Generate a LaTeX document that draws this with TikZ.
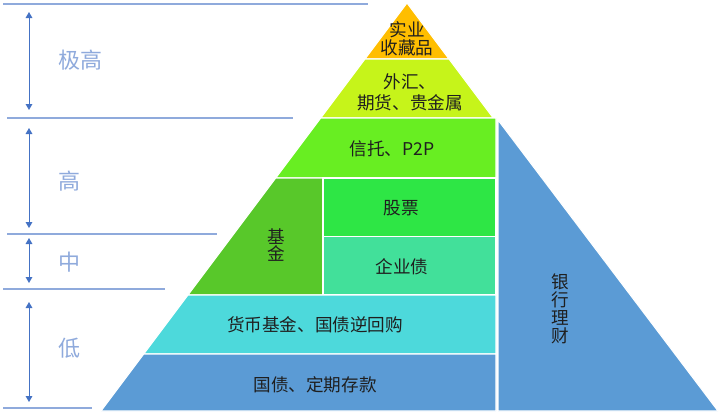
\documentclass[tikz,border=0pt]{standalone}
\usepackage{fontspec}
\newfontfamily\cjk{Noto Sans CJK SC}
\usetikzlibrary{arrows.meta}
\definecolor{topgold}{RGB}{255,190,0}
\definecolor{limegreen}{RGB}{198,244,26}
\definecolor{grassgreen}{RGB}{104,238,34}
\definecolor{fundgreen}{RGB}{88,200,42}
\definecolor{stockgreen}{RGB}{46,230,69}
\definecolor{bondgreen}{RGB}{66,224,154}
\definecolor{moneycyan}{RGB}{77,217,219}
\definecolor{bankblue}{RGB}{91,155,213}
\definecolor{lineblue}{RGB}{143,170,220}
\definecolor{arrowblue}{RGB}{68,114,196}

\begin{document}
\begin{tikzpicture}[x=0.75pt,y=0.75pt,yscale=-1,xscale=1,
  block/.style={draw=white, line width=0.8pt},
  txt/.style={font=\cjk\fontsize{13.2}{13.5}\selectfont, text=black!88, align=center, inner sep=0pt},
  lvl/.style={font=\cjk\fontsize{16.5}{20}\selectfont, text=lineblue, inner sep=0pt},
  sep/.style={draw=lineblue, line width=0.8pt},
  span/.style={draw=arrowblue, line width=0.75pt, {Triangle[width=5pt,length=4.5pt]}-{Triangle[width=5pt,length=4.5pt]}}]
\useasboundingbox (0,0) rectangle (720,415);

%Shape: Triangle
\draw [block, fill=topgold] (407,3) -- (449,59) -- (365,59) -- cycle ;
%Shape: Trapezoid
\draw [block, fill=limegreen] (365,59) -- (449,59) -- (493.25,118) -- (320.75,118) -- cycle ;
%Shape: Trapezoid
\draw [block, fill=grassgreen] (320.75,118) -- (496,118) -- (496,178) -- (275.75,178) -- cycle ;
%Shape: Trapezoid
\draw [block, fill=fundgreen] (275.75,178) -- (323,178) -- (323,295) -- (188,295) -- cycle ;
%Shape: Rectangle
\draw [block, fill=stockgreen] (323,178) -- (496,178) -- (496,236.5) -- (323,236.5) -- cycle ;
%Shape: Rectangle
\draw [block, fill=bondgreen] (323,236.5) -- (496,236.5) -- (496,295) -- (323,295) -- cycle ;
%Shape: Trapezoid
\draw [block, fill=moneycyan] (188,295) -- (496,295) -- (496,354) -- (143.75,354) -- cycle ;
%Shape: Trapezoid
\draw [block, fill=bankblue] (143.75,354) -- (496,354) -- (496,411) -- (101,411) -- cycle ;
%Shape: Right Triangle
\draw [block, fill=bankblue] (498,120) -- (498,411) -- (718,411) -- cycle ;

%Straight Lines
\draw [sep] (3,4) -- (368,4) ;
\draw [sep] (7,118) -- (293,118) ;
\draw [sep] (7,234) -- (217,234) ;
\draw [sep] (3,289) -- (165,289) ;
\draw [sep] (3,408) -- (92,408) ;

%Arrows
\coordinate (vhTop) at (29,12) ;
\coordinate (vhBot) at (29,110) ;
\coordinate (hiTop) at (29,128) ;
\coordinate (hiBot) at (29,228) ;
\coordinate (midTop) at (29,238) ;
\coordinate (midBot) at (29,283) ;
\coordinate (loTop) at (29,302) ;
\coordinate (loBot) at (29,402) ;
\draw [span] (vhTop) -- (vhBot) ;
\draw [span] (hiTop) -- (hiBot) ;
\draw [span] (midTop) -- (midBot) ;
\draw [span] (loTop) -- (loBot) ;

% Text Node
\node [lvl] (vhigh) at (80,60) {极高};
% Text Node
\node [lvl] (high) at (69.5,181) {高};
% Text Node
\node [lvl] (mid) at (69.5,262) {中};
% Text Node
\node [lvl] (low) at (69.5,348) {低};

% Text Node
\node [txt] (collect) at (407,39) {实业\\收藏品};
% Text Node
\node [txt, font=\cjk\fontsize{13.2}{15.75}\selectfont] (forex) at (410,92.5) {外汇、\\期货、贵金属};
% Text Node
\node [txt] (trust) at (392,149) {信托、P2P};
% Text Node
\node [txt, font=\cjk\fontsize{13.2}{12.4}\selectfont] (fund) at (276,245) {基\\金};
% Text Node
\node [txt] (stock) at (401,208) {股票};
% Text Node
\node [txt] (corp) at (402,267) {企业债};
% Text Node
\node [txt] (money) at (315,325) {货币基金、国债逆回购};
% Text Node
\node [txt] (gov) at (315,385) {国债、定期存款};
% Text Node
\node [txt] (bank) at (560,309) {银\\行\\理\\财};

\end{tikzpicture}
\end{document}
